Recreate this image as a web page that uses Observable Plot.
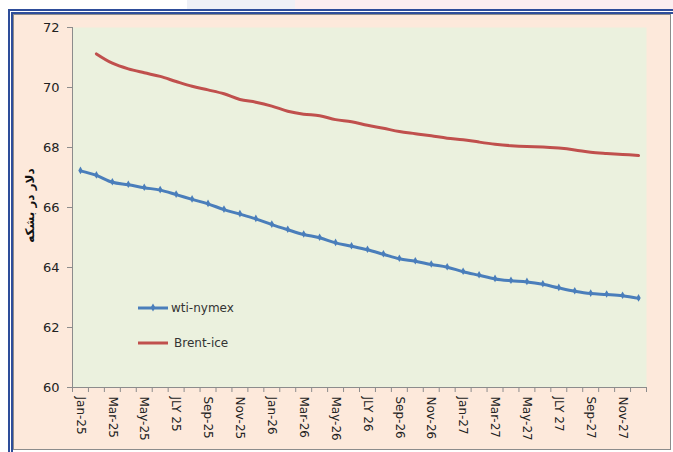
<!DOCTYPE html>
<html>
<head>
<meta charset="utf-8">
<script src="https://cdn.jsdelivr.net/npm/d3@7"></script>
<script src="https://cdn.jsdelivr.net/npm/@observablehq/plot@0.6"></script>
<style>
  body { margin:0; width:673px; height:452px; position:relative; background:#fff; overflow:hidden; font-family:"DejaVu Sans", sans-serif; }
  .abs { position:absolute; }
</style>
</head>
<body>
<div class="abs" style="left:187px;top:0;width:108px;height:9px;background:#eef0f6"></div>
<div class="abs" style="left:295px;top:0;width:378px;height:9px;background:#fbeef0"></div>
<div class="abs" style="left:8px;top:9px;width:670px;height:450px;box-sizing:border-box;border:5px double #2e4d9a;"></div>
<div class="abs" style="left:13px;top:14px;width:658px;height:436px;box-sizing:border-box;border:1px solid #8c8c8c;background:#fde9db"></div>
<div id="chart" class="abs" style="left:0;top:0"></div>
<script>
// Month labels (36 months, Jan-25 .. Dec-27); every second one is shown on the axis
const months = [
  "Jan-25","Feb-25","Mar-25","Apr-25","May-25","Jun-25","JLY 25","Aug-25","Sep-25","Oct-25","Nov-25","Dec-25",
  "Jan-26","Feb-26","Mar-26","Apr-26","May-26","Jun-26","JLY 26","Aug-26","Sep-26","Oct-26","Nov-26","Dec-26",
  "Jan-27","Feb-27","Mar-27","Apr-27","May-27","Jun-27","JLY 27","Aug-27","Sep-27","Oct-27","Nov-27","Dec-27"
];
const wti = [67.22, 67.07, 66.84, 66.76, 66.66, 66.58, 66.43, 66.27, 66.12, 65.93, 65.78, 65.62,
             65.43, 65.26, 65.10, 64.99, 64.82, 64.71, 64.59, 64.44, 64.29, 64.21, 64.10, 64.01,
             63.86, 63.74, 63.62, 63.56, 63.52, 63.44, 63.32, 63.21, 63.13, 63.10, 63.06, 62.97];
const brent = [null, 71.12, 70.81, 70.62, 70.49, 70.37, 70.20, 70.04, 69.92, 69.79, 69.60, 69.51,
               69.38, 69.21, 69.11, 69.06, 68.93, 68.86, 68.74, 68.64, 68.53, 68.46, 68.39, 68.31,
               68.26, 68.18, 68.11, 68.06, 68.03, 68.02, 67.98, 67.92, 67.84, 67.80, 67.77, 67.73];
const yTicks = [60, 62, 64, 66, 68, 70, 72];
const seriesNames = ["wti-nymex", "Brent-ice"];
const yTitle = "دلار در بشکه";

const blue = "#4a7ebb", red = "#c0504d";
const wtiData = wti.map((v, i) => ({x: i + 0.5, v}));
const brentData = brent.map((v, i) => ({x: i + 0.5, v})).filter(d => d.v != null);
const labelTicks = months.map((m, i) => i).filter(i => i % 2 === 0).map(i => i + 0.5);

const chart = Plot.plot({
  width: 673, height: 452,
  marginLeft: 72, marginRight: 27, marginTop: 27, marginBottom: 65,
  style: {background: "transparent", fontFamily: "DejaVu Sans, sans-serif", overflow: "visible"},
  x: {domain: [0, 36]},
  y: {domain: [60, 72]},
  marks: [
    Plot.frame({fill: "#ebf1de", stroke: null}),
    Plot.axisY({ticks: yTicks, tickSize: 5, tickPadding: 8, fontSize: 13, stroke: "#8c8c8c", fill: "#222", label: null}),
    Plot.axisX({ticks: d3.range(37), tickSize: 5, tickFormat: () => "", stroke: "#8c8c8c", label: null}),
    Plot.axisX({ticks: labelTicks, tickSize: 0, tickPadding: 9, tickRotate: 90, fontSize: 12, fill: "#222",
                tickFormat: d => months[Math.round(d - 0.5)], label: null}),
    Plot.ruleX([0], {stroke: "#8c8c8c"}),
    Plot.ruleY([60], {stroke: "#8c8c8c"}),
    Plot.line(brentData, {x: "x", y: "v", stroke: red, strokeWidth: 3, curve: "catmull-rom"}),
    Plot.line(wtiData, {x: "x", y: "v", stroke: blue, strokeWidth: 3, curve: "catmull-rom"}),
    Plot.dot(wtiData, {x: "x", y: "v", r: 2.3, symbol: "diamond", fill: blue, dy: -0.5}),
    Plot.text([yTitle], {frameAnchor: "left", textAnchor: "middle", dx: -42, dy: -2, rotate: -90, fontWeight: "bold", fontSize: 12, fill: "#111"})
  ]
});
document.getElementById("chart").appendChild(chart);

// Legend inside the plot area
const svg = d3.select(chart);
const lg = svg.append("g").attr("font-family", "DejaVu Sans, sans-serif").attr("font-size", 12)
  .attr("fill", "#333").attr("text-anchor", "start");
const legendItems = [{name: seriesNames[0], color: blue, marker: true, y: 308},
                     {name: seriesNames[1], color: red, marker: false, y: 343}];
legendItems.forEach(it => {
  lg.append("line").attr("x1", 138).attr("x2", 168).attr("y1", it.y).attr("y2", it.y)
    .attr("stroke", it.color).attr("stroke-width", 3);
  if (it.marker) lg.append("path").attr("d", d3.symbol(d3.symbolDiamond, 18)()).attr("transform", `translate(153,${it.y - 0.5})`).attr("fill", it.color);
  lg.append("text").attr("x", it.marker ? 171 : 174).attr("y", it.y).attr("dy", "0.35em").text(it.name);
});
</script>
</body>
</html>
